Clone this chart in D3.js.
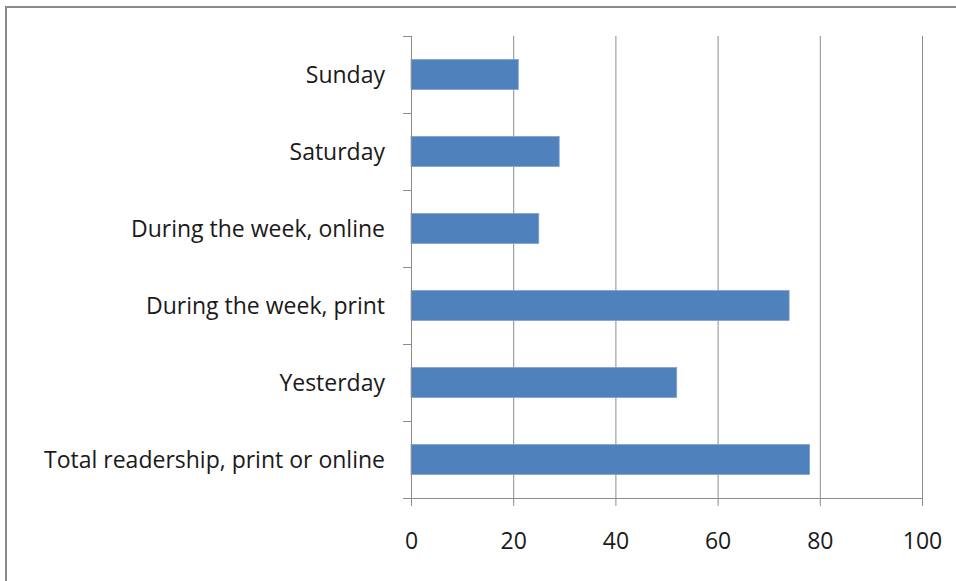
<!DOCTYPE html>
<html><head><meta charset="utf-8">
<script src="https://cdn.jsdelivr.net/npm/d3@7"></script>
<style>html,body{margin:0;padding:0;background:#fff;}</style>
</head><body>
<svg id="chart" width="956" height="581"></svg>
<script>
const categories = ["Sunday", "Saturday", "During the week, online", "During the week, print", "Yesterday", "Total readership, print or online"];
const values = [21, 29, 25, 74, 52, 78];
const xTicks = [0, 20, 40, 60, 80, 100];

const svg = d3.select("#chart");
const font = "'Open Sans', sans-serif";
const mLeft = 411, mRight = 922, mTop = 36, mBottom = 498;

// outer frame
svg.append("path").attr("d", "M6,581 V7 H956").attr("fill", "none")
  .attr("stroke", "#8a8a8a").attr("stroke-width", 2);

const x = d3.scaleLinear().domain([0, 100]).range([mLeft, mRight]);
const y = d3.scaleBand().domain(categories).range([mTop, mBottom]).paddingInner(0.61).paddingOuter(0.305);

// gridlines
svg.append("g").selectAll("line").data(xTicks.slice(1)).join("line")
  .attr("x1", d => x(d) + 0.5).attr("x2", d => x(d) + 0.5).attr("y1", mTop).attr("y2", mBottom)
  .attr("stroke", "#8c8c8c").attr("stroke-width", 1);

// bars
svg.append("g").selectAll("rect").data(values).join("rect")
  .attr("x", x(0)).attr("y", (d, i) => y(categories[i]))
  .attr("width", d => x(d) - x(0)).attr("height", y.bandwidth())
  .attr("fill", "#4f81bd").attr("stroke", "#7ea3d3").attr("stroke-width", 0.8);

// x axis
const xAxis = d3.axisBottom(x).tickValues(xTicks).tickSize(8).tickPadding(27);
const gx = svg.append("g").attr("transform", `translate(0,${mBottom})`).call(xAxis);
gx.select(".domain").attr("d", `M${mLeft - 8},0.5H${mRight}`).attr("stroke", "#8c8c8c");
gx.selectAll(".tick line").attr("stroke", "#8c8c8c");
gx.selectAll(".tick text").attr("font-family", font).attr("font-size", 23).attr("fill", "#1a1a1a");

// y axis: category boundary ticks
const bounds = d3.range(categories.length + 1).map(i => mTop + (mBottom - mTop) * i / categories.length);
svg.append("line").attr("x1", mLeft + 0.5).attr("x2", mLeft + 0.5).attr("y1", mTop).attr("y2", mBottom + 8)
  .attr("stroke", "#8c8c8c");
svg.append("g").selectAll("line").data(bounds).join("line")
  .attr("x1", mLeft - 8).attr("x2", mLeft).attr("y1", d => Math.round(d) + 0.5).attr("y2", d => Math.round(d) + 0.5)
  .attr("stroke", "#8c8c8c");

// category labels
svg.append("g").selectAll("text").data(categories).join("text")
  .attr("x", 385).attr("y", d => y(d) + y.bandwidth() / 2)
  .attr("dy", "0.35em").attr("text-anchor", "end")
  .attr("font-family", font).attr("font-size", 23).attr("fill", "#1a1a1a")
  .text(d => d);
</script>
</body></html>
